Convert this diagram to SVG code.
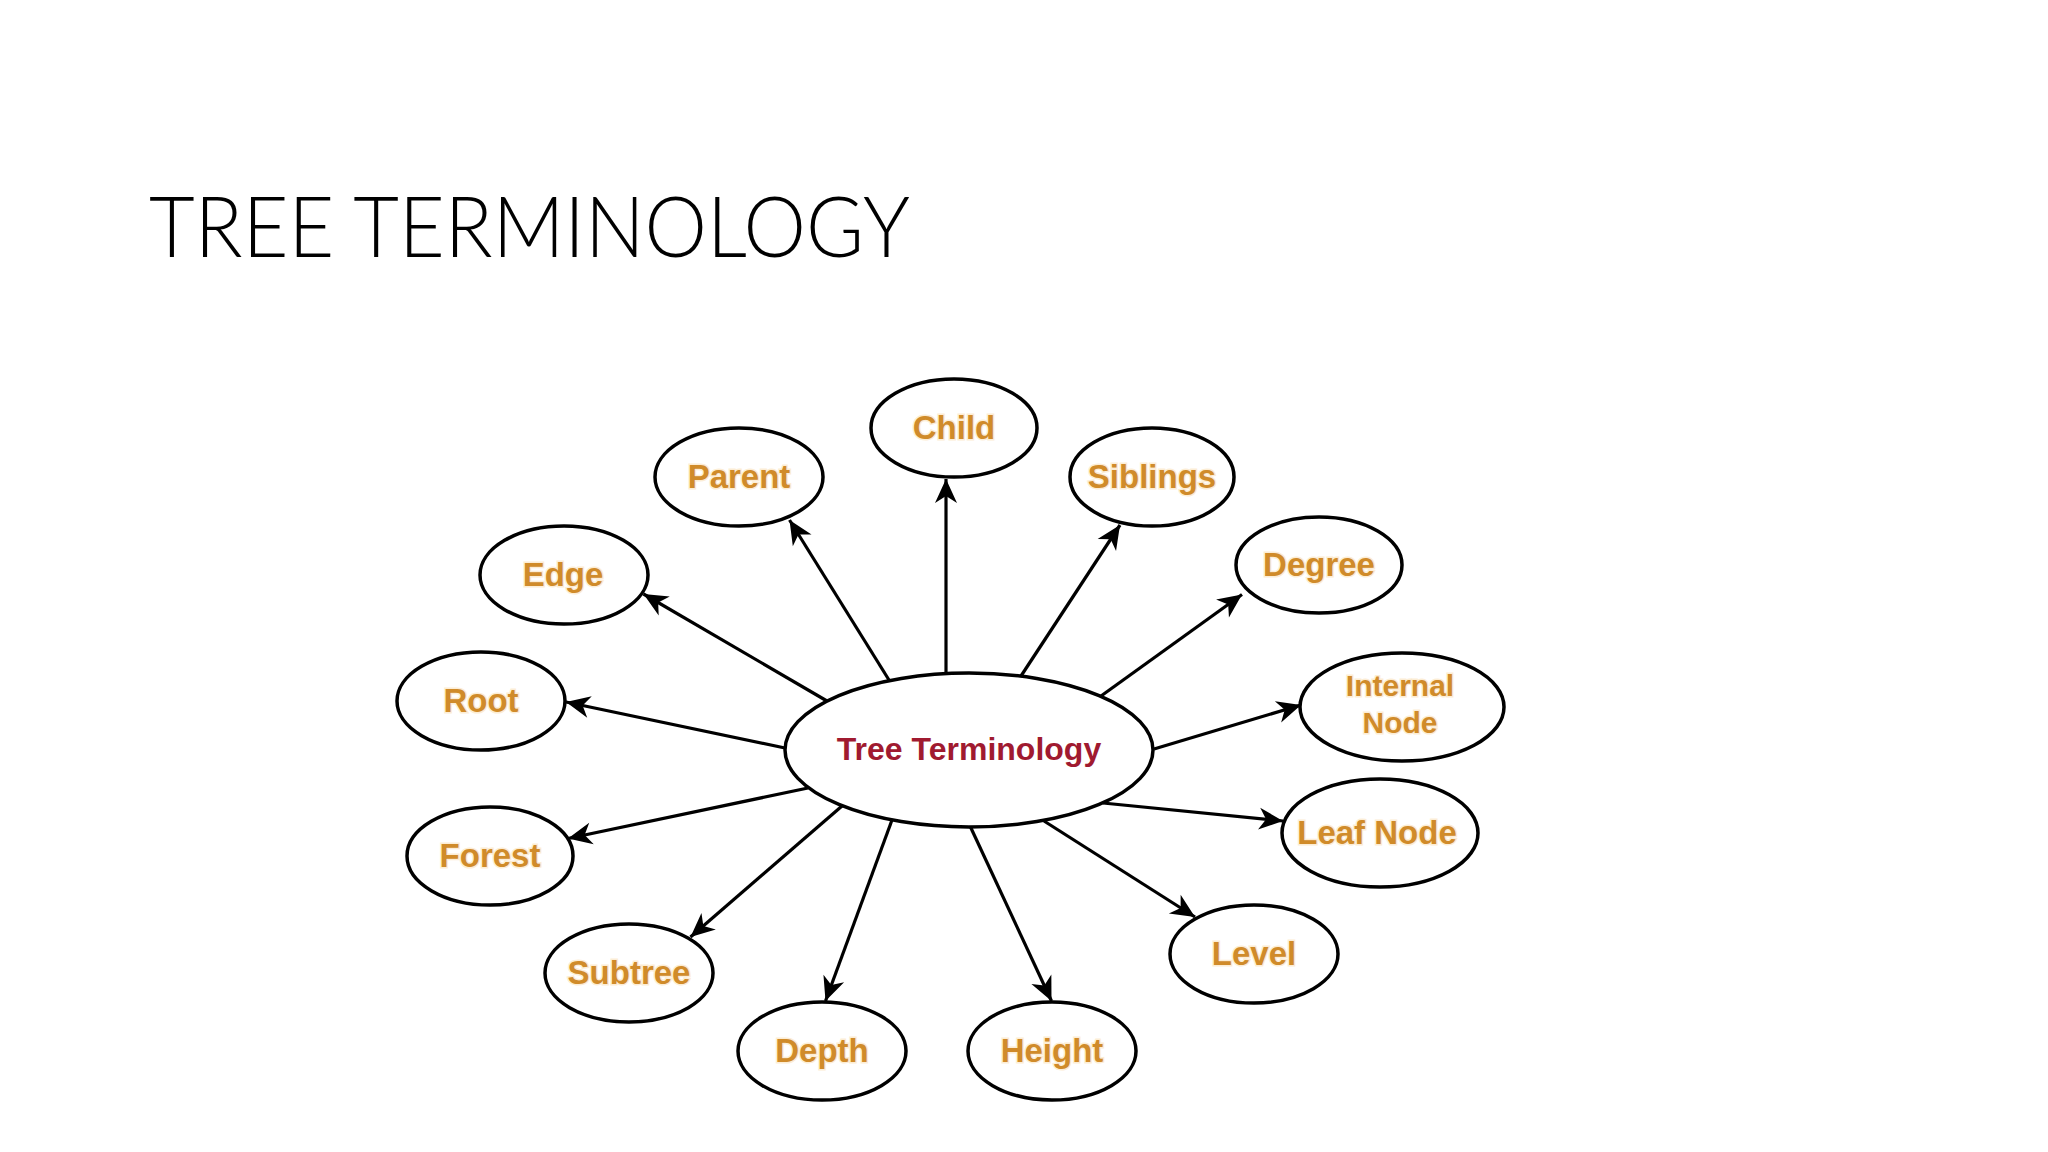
<svg xmlns="http://www.w3.org/2000/svg" width="2048" height="1152" viewBox="0 0 2048 1152">
  <style>
    .node ellipse { fill: #ffffff; stroke: #000000; stroke-width: 3.5; }
    .lbl { font-family: "Liberation Sans", Arial, sans-serif; font-weight: bold; font-size: 33px; fill: #d08b2a; text-anchor: middle; stroke: #fbe6c2; stroke-width: 3; stroke-opacity: 0.7; paint-order: stroke; }
    .lbl2 { font-size: 30px; }
    .center-lbl { font-family: "Liberation Sans", Arial, sans-serif; font-weight: bold; font-size: 32px; fill: #a01a30; text-anchor: middle; }
    .title { font-family: Lato, "Open Sans", "Liberation Sans", sans-serif; font-weight: 300; font-size: 84px; fill: #000000; }
    .conn line { stroke: #000000; stroke-width: 3.2; marker-end: url(#arrow); }
  </style>
  <defs>
    <marker id="arrow" markerUnits="userSpaceOnUse" viewBox="-26 -13 28 26" refX="0" refY="0" markerWidth="28" markerHeight="26" orient="auto">
      <path d="M0,0 L-24,-11 L-17,0 L-24,11 Z" fill="#000000"/>
    </marker>
  </defs>
  <rect width="2048" height="1152" fill="#ffffff"/>
  <text class="title" x="149" y="257" textLength="761" lengthAdjust="spacingAndGlyphs">TREE TERMINOLOGY</text>

  <g id="connectors" class="conn">
    <line x1="946" y1="674" x2="946" y2="479"/>
    <line x1="889" y1="680" x2="789.5" y2="520"/>
    <line x1="1021" y1="676" x2="1120" y2="525"/>
    <line x1="827" y1="701" x2="643.5" y2="594"/>
    <line x1="1101" y1="696" x2="1242" y2="594.5"/>
    <line x1="785" y1="748" x2="566" y2="702"/>
    <line x1="1154" y1="749" x2="1301" y2="705"/>
    <line x1="808" y1="788" x2="568" y2="838.5"/>
    <line x1="1103" y1="803" x2="1283" y2="821"/>
    <line x1="842" y1="806" x2="690.5" y2="937"/>
    <line x1="1044" y1="821" x2="1195" y2="917"/>
    <line x1="892" y1="820" x2="825.5" y2="1001"/>
    <line x1="970.5" y1="827" x2="1051.5" y2="1001"/>
  </g>

  <g id="tree-terminology" class="node">
    <ellipse cx="969" cy="750" rx="184" ry="77"/>
    <text class="center-lbl" x="969" y="760">Tree Terminology</text>
  </g>
  <g id="child" class="node">
    <ellipse cx="954" cy="428" rx="83" ry="49"/>
    <text class="lbl" x="954" y="439">Child</text>
  </g>
  <g id="parent" class="node">
    <ellipse cx="739" cy="477" rx="84" ry="49"/>
    <text class="lbl" x="739" y="488">Parent</text>
  </g>
  <g id="siblings" class="node">
    <ellipse cx="1152" cy="477" rx="82" ry="49"/>
    <text class="lbl" x="1152" y="488">Siblings</text>
  </g>
  <g id="edge" class="node">
    <ellipse cx="564" cy="575" rx="84" ry="49"/>
    <text class="lbl" x="563" y="586">Edge</text>
  </g>
  <g id="degree" class="node">
    <ellipse cx="1319" cy="565" rx="83" ry="48"/>
    <text class="lbl" x="1319" y="576">Degree</text>
  </g>
  <g id="root" class="node">
    <ellipse cx="481" cy="701" rx="84" ry="49"/>
    <text class="lbl" x="481" y="712">Root</text>
  </g>
  <g id="internal-node" class="node">
    <ellipse cx="1402" cy="707" rx="102" ry="54"/>
    <text class="lbl lbl2" x="1400" y="696">Internal</text>
    <text class="lbl lbl2" x="1400" y="733">Node</text>
  </g>
  <g id="forest" class="node">
    <ellipse cx="490" cy="856" rx="83" ry="49"/>
    <text class="lbl" x="490" y="867">Forest</text>
  </g>
  <g id="leaf-node" class="node">
    <ellipse cx="1380" cy="833" rx="98" ry="54"/>
    <text class="lbl" x="1377" y="844">Leaf Node</text>
  </g>
  <g id="subtree" class="node">
    <ellipse cx="629" cy="973" rx="84" ry="49"/>
    <text class="lbl" x="629" y="984">Subtree</text>
  </g>
  <g id="level" class="node">
    <ellipse cx="1254" cy="954" rx="84" ry="49"/>
    <text class="lbl" x="1254" y="965">Level</text>
  </g>
  <g id="depth" class="node">
    <ellipse cx="822" cy="1051" rx="84" ry="49"/>
    <text class="lbl" x="822" y="1062">Depth</text>
  </g>
  <g id="height" class="node">
    <ellipse cx="1052" cy="1051" rx="84" ry="49"/>
    <text class="lbl" x="1052" y="1062">Height</text>
  </g>
</svg>
